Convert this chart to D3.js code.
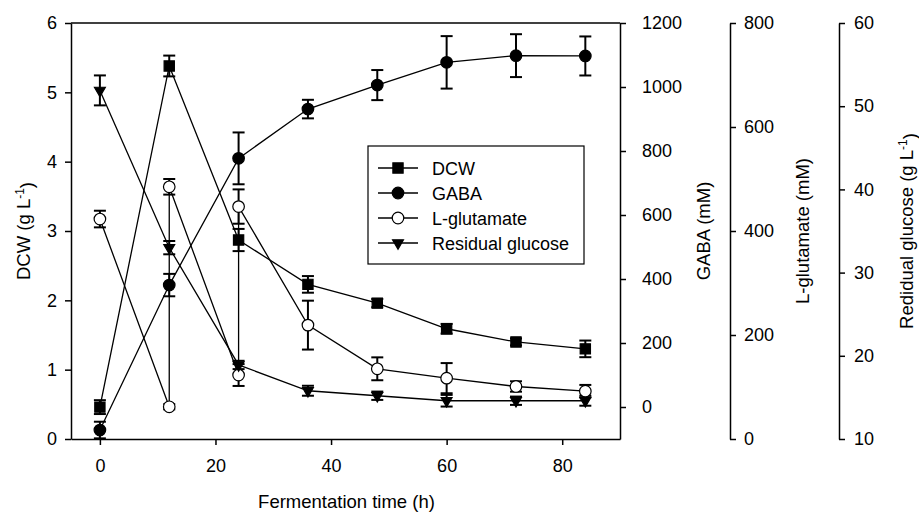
<!DOCTYPE html>
<html>
<head>
<meta charset="utf-8">
<script src="https://cdn.jsdelivr.net/npm/d3@7"></script>
<style>
  html, body { margin: 0; padding: 0; background: #fff; }
  svg text { font-family: "Liberation Sans", Arial, sans-serif; fill: #000; }
</style>
</head>
<body>
<div id="chart"></div>
<script>
const times = [0, 12, 24, 36, 48, 60, 72, 84];
const dcw = [0.46, 5.38, 2.87, 2.23, 1.96, 1.59, 1.40, 1.30];
const dcwErr = [0.10, 0.15, 0.16, 0.12, 0.06, 0.07, 0.05, 0.12];
const gaba = [-72, 381, 777, 931, 1006, 1077, 1098, 1097];
const gabaErr = [26, 35, 81, 29, 47, 82, 67, 61];
// L-glutamate was fed at 12 h and 24 h, so those times carry two points
const glutTimes = [0, 12, 12, 24, 24, 36, 48, 60, 72, 84];
const glut = [423, 62, 485, 123, 447, 219, 135, 117, 101, 92];
const glutErr = [16, 5, 15, 21, 33, 47, 22, 29, 10, 12];
const glucose = [51.9, 33.0, 18.9, 15.8, 15.2, 14.6, 14.6, 14.6];
const glucoseErr = [1.8, 0.8, 0.5, 0.6, 0.5, 0.7, 0.5, 0.6];

const xTicks = [0, 20, 40, 60, 80];
const dcwTicks = [0, 1, 2, 3, 4, 5, 6];
const gabaTicks = [0, 200, 400, 600, 800, 1000, 1200];
const glutTicks = [0, 200, 400, 600, 800];
const glucoseTicks = [10, 20, 30, 40, 50, 60];
const legendNames = ["DCW", "GABA", "L-glutamate", "Residual glucose"];

const W = 919, H = 512;
const plot = { left: 71, right: 620, top: 23, bottom: 439 };
const FS = 18;
const TFS = 18.5;

const svg = d3.select("#chart").append("svg")
    .attr("width", W).attr("height", H);

const x = d3.scaleLinear().domain([-5, 90]).range([plot.left, plot.right]);
const yDcw = d3.scaleLinear().domain([0, 6]).range([plot.bottom, plot.top]);
const yGaba = d3.scaleLinear().domain([-100, 1200]).range([plot.bottom, plot.top]);
const yGlut = d3.scaleLinear().domain([0, 800]).range([plot.bottom, plot.top]);
const yGlucose = d3.scaleLinear().domain([10, 60]).range([plot.bottom, plot.top]);

const plain = d => String(d);

function styleAxis(g) {
    g.selectAll(".domain, .tick line").attr("stroke", "#000").attr("stroke-width", 1.5);
    g.selectAll(".tick text").style("font-size", FS + "px").attr("fill", "#000");
}

// frame top line
svg.append("line")
    .attr("x1", plot.left).attr("x2", plot.right)
    .attr("y1", plot.top).attr("y2", plot.top)
    .attr("stroke", "#000").attr("stroke-width", 1.5);

svg.append("g")
    .attr("transform", `translate(0,${plot.bottom})`)
    .call(d3.axisBottom(x).tickValues(xTicks).tickFormat(plain).tickSize(6).tickSizeOuter(0).tickPadding(14))
    .call(styleAxis);

svg.append("g")
    .attr("transform", `translate(${plot.left},0)`)
    .call(d3.axisLeft(yDcw).tickValues(dcwTicks).tickFormat(plain).tickSize(6).tickSizeOuter(0).tickPadding(8))
    .call(styleAxis);

svg.append("g")
    .attr("transform", `translate(${plot.right},0)`)
    .call(d3.axisRight(yGaba).tickValues(gabaTicks).tickFormat(plain).tickSize(6).tickSizeOuter(0).tickPadding(16))
    .call(styleAxis);

svg.append("g")
    .attr("transform", "translate(730,0)")
    .call(d3.axisRight(yGlut).tickValues(glutTicks).tickFormat(plain).tickSize(6).tickSizeOuter(0).tickPadding(8))
    .call(styleAxis);

svg.append("g")
    .attr("transform", "translate(839,0)")
    .call(d3.axisRight(yGlucose).tickValues(glucoseTicks).tickFormat(plain).tickSize(6).tickSizeOuter(0).tickPadding(9))
    .call(styleAxis);

// axis titles
svg.append("text")
    .attr("x", (plot.left + plot.right) / 2 + 1).attr("y", 508)
    .attr("text-anchor", "middle")
    .style("font-size", TFS + "px")
    .text("Fermentation time (h)");

// rotated titles: baseline placed so the glyphs centre on cx
function vTitle(cx, main, sup, tail) {
    const t = svg.append("text")
        .attr("transform", `translate(${cx + 6.5},${(plot.top + plot.bottom) / 2}) rotate(-90)`)
        .attr("text-anchor", "middle")
        .style("font-size", TFS + "px");
    t.append("tspan").text(main);
    if (sup) {
        t.append("tspan").attr("dy", "-0.5em").style("font-size", "12px").text(sup);
        t.append("tspan").attr("dy", "0.5em").text(tail);
    }
}
vTitle(23, "DCW (g L", "-1", ")");
vTitle(703, "GABA (mM)");
vTitle(802, "L-glutamate (mM)");
vTitle(906, "Redidual glucose (g L", "-1", ")");

const series = [
    { name: legendNames[0], t: times, v: dcw, e: dcwErr, y: yDcw, shape: "square", fill: "#000" },
    { name: legendNames[1], t: times, v: gaba, e: gabaErr, y: yGaba, shape: "circle", fill: "#000" },
    { name: legendNames[2], t: glutTimes, v: glut, e: glutErr, y: yGlut, shape: "circle", fill: "#fff" },
    { name: legendNames[3], t: times, v: glucose, e: glucoseErr, y: yGlucose, shape: "triangle", fill: "#000" }
];

const symbolFor = {
    square: d3.symbol().type(d3.symbolSquare).size(105),
    circle: d3.symbol().type(d3.symbolCircle).size(105),
    triangle: d3.symbol().type(d3.symbolTriangle2).size(85)
};
const rot = shape => shape === "triangle" ? " rotate(180)" : "";

const line = d3.line().x(d => d.x).y(d => d.y);

series.forEach(s => {
    s.pts = s.t.map((t, i) => ({ x: x(t), y: s.y(s.v[i]), y0: s.y(s.v[i] - s.e[i]), y1: s.y(s.v[i] + s.e[i]) }));
});

series.forEach(s => {
    svg.append("path")
        .attr("d", line(s.pts))
        .attr("fill", "none").attr("stroke", "#000").attr("stroke-width", 1.3);
});

const capW = 6;
series.forEach(s => {
    const g = svg.append("g").attr("stroke", "#000").attr("stroke-width", 2);
    g.selectAll(".eb").data(s.pts).join("line")
        .attr("x1", d => d.x).attr("x2", d => d.x)
        .attr("y1", d => d.y0).attr("y2", d => d.y1);
    g.selectAll(".cap0").data(s.pts).join("line")
        .attr("x1", d => d.x - capW).attr("x2", d => d.x + capW)
        .attr("y1", d => d.y0).attr("y2", d => d.y0);
    g.selectAll(".cap1").data(s.pts).join("line")
        .attr("x1", d => d.x - capW).attr("x2", d => d.x + capW)
        .attr("y1", d => d.y1).attr("y2", d => d.y1);
});

series.forEach(s => {
    svg.append("g").selectAll("path").data(s.pts).join("path")
        .attr("transform", d => `translate(${d.x},${d.y})${rot(s.shape)}`)
        .attr("d", symbolFor[s.shape]())
        .attr("fill", s.fill).attr("stroke", "#000").attr("stroke-width", 1.2);
});

// legend
const legend = svg.append("g");
legend.append("rect")
    .attr("x", 368).attr("y", 146).attr("width", 216).attr("height", 118)
    .attr("fill", "#fff").attr("stroke", "#000").attr("stroke-width", 1.2);

const rows = legend.selectAll(".row").data(series).join("g")
    .attr("transform", (d, i) => `translate(0,${168 + i * 25})`);
rows.append("line")
    .attr("x1", 378).attr("x2", 418).attr("y1", 0).attr("y2", 0)
    .attr("stroke", "#000").attr("stroke-width", 1.3);
rows.append("path")
    .attr("transform", d => `translate(398,0)${rot(d.shape)}`)
    .attr("d", d => symbolFor[d.shape]())
    .attr("fill", d => d.fill).attr("stroke", "#000").attr("stroke-width", 1.2);
rows.append("text")
    .attr("x", 432).attr("y", 6.5)
    .style("font-size", FS + "px")
    .text(d => d.name);
</script>
</body>
</html>
